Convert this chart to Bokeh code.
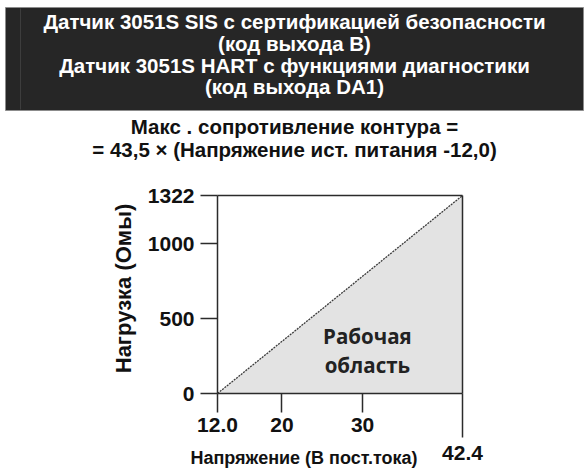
import numpy as np
from bokeh.plotting import figure
from bokeh.models import FixedTicker, LinearAxis, Range1d
from bokeh.embed import file_html
from bokeh.resources import INLINE
from bokeh.core.properties import value

# ---------------- data ----------------
header_lines = [
    "Датчик 3051S SIS с сертификацией безопасности",
    "(код выхода B)",
    "Датчик 3051S HART с функциями диагностики",
    "(код выхода DA1)",
]
formula_lines = [
    "Макс . сопротивление контура =",
    "= 43,5 × (Напряжение ист. питания -12,0)",
]
voltage = [12.0, 42.4]          # supply voltage, V DC
load = [0, 1322]                # max loop resistance, Ohm
x_ticks = [12.0, 20, 30]
x_end_tick = [42.4]
y_ticks = [0, 500, 1000, 1322]
x_title = "Напряжение (В пост.тока)"
y_title = "Нагрузка (Омы)"
region_text = ["Рабочая", "область"]

# ---------------- layout / styles ----------------
W, H = 586, 470
FRAME_L, FRAME_R, FRAME_T, FRAME_B = 217, 462, 195, 393   # plot area in pixels
BOLD_FONT = "Liberation Sans"
INK = "#2b2b2b"

# data ranges chosen so that the plot area lands on FRAME_* pixels
kx = (voltage[-1] - voltage[0]) / (FRAME_R - FRAME_L)
ky = (load[-1] - load[0]) / (FRAME_B - FRAME_T)
x_range = Range1d(voltage[0] - FRAME_L * kx, voltage[-1] + (W - FRAME_R) * kx)
y_range = Range1d(load[0] - (H - FRAME_B) * ky, load[-1] + FRAME_T * ky)

p = figure(width=W, height=H, min_border=0, x_range=x_range, y_range=y_range,
           extra_x_ranges={"px": Range1d(0, W)}, extra_y_ranges={"px": Range1d(H, 0)},
           toolbar_location=None, output_backend="svg",
           x_axis_location=None, y_axis_location=None,
           outline_line_color=None, background_fill_color="white",
           border_fill_color="white")
for g in p.grid:
    g.visible = False

PX = dict(x_range_name="px", y_range_name="px")

# ---------------- header box ----------------
p.quad(left=5, right=583, top=7, bottom=110, fill_color="#262626",
       line_color="#8c8c8c", line_width=1, **PX)
p.segment(x0=20, y0=8, x1=20, y1=109, line_color="#3d3d3d", line_width=1, **PX)
p.text(x=[294] * 4, y=[21, 43, 65, 86], text=header_lines,
       text_align="center", text_baseline="middle", text_color="white",
       text_font=value(BOLD_FONT), text_font_style="bold", text_font_size="20.5px", **PX)

# formula
p.text(x=[294] * 2, y=[126, 149], text=formula_lines,
       text_align="center", text_baseline="middle", text_color="#111111",
       text_font=value(BOLD_FONT), text_font_style="bold", text_font_size="20.5px", **PX)

# ---------------- chart ----------------
p.varea(x=voltage, y1=0, y2=load, fill_color="#e3e3e3")
p.line(voltage, load, line_color="#3a3a3a", line_width=1.3, line_dash="2 1")
# top and right borders of the region
p.segment(x0=[voltage[0], voltage[-1]], y0=[load[-1], load[0]],
          x1=[voltage[-1], voltage[-1]], y1=[load[-1], load[-1]],
          line_color=INK, line_width=1.5)

common = dict(axis_line_color=INK, axis_line_width=1.5,
              major_tick_line_color=INK, major_tick_line_width=1.5,
              major_tick_in=0, minor_tick_line_color=None,
              major_label_text_font=BOLD_FONT, major_label_text_font_style="bold",
              major_label_text_font_size="21px", major_label_text_color="#111111")

yax = LinearAxis(ticker=FixedTicker(ticks=y_ticks), fixed_location=voltage[0],
                 bounds=(load[0], load[-1]), major_tick_out=17,
                 major_label_standoff=6, **common)
p.add_layout(yax, "left")

xax = LinearAxis(ticker=FixedTicker(ticks=x_ticks), fixed_location=load[0],
                 bounds=(voltage[0], voltage[-1]), major_tick_out=19,
                 major_label_standoff=5, major_label_overrides={12: "12.0"}, **common)
p.add_layout(xax, "below")

xax2 = LinearAxis(ticker=FixedTicker(ticks=x_end_tick), fixed_location=load[0],
                  major_tick_out=44, major_label_standoff=8, **common)
xax2.axis_line_color = None
p.add_layout(xax2, "below")

# axis titles
p.text(x=[123], y=[288], text=[y_title], angle=np.pi / 2,
       text_align="center", text_baseline="middle", text_color="#111111",
       text_font=value(BOLD_FONT), text_font_style="bold", text_font_size="22px", **PX)
p.text(x=[303.5], y=[457], text=[x_title],
       text_align="center", text_baseline="middle", text_color="#111111",
       text_font=value(BOLD_FONT), text_font_style="bold", text_font_size="18px", **PX)

# region label
p.text(x=[30.6, 30.6], y=[387, 187], text=region_text, text_align="center",
       text_baseline="middle", text_font=value("Open Sans"), text_font_style="bold",
       text_font_size="20.5px", text_color="#222222")

open("out.html", "w").write(file_html(p, INLINE))
